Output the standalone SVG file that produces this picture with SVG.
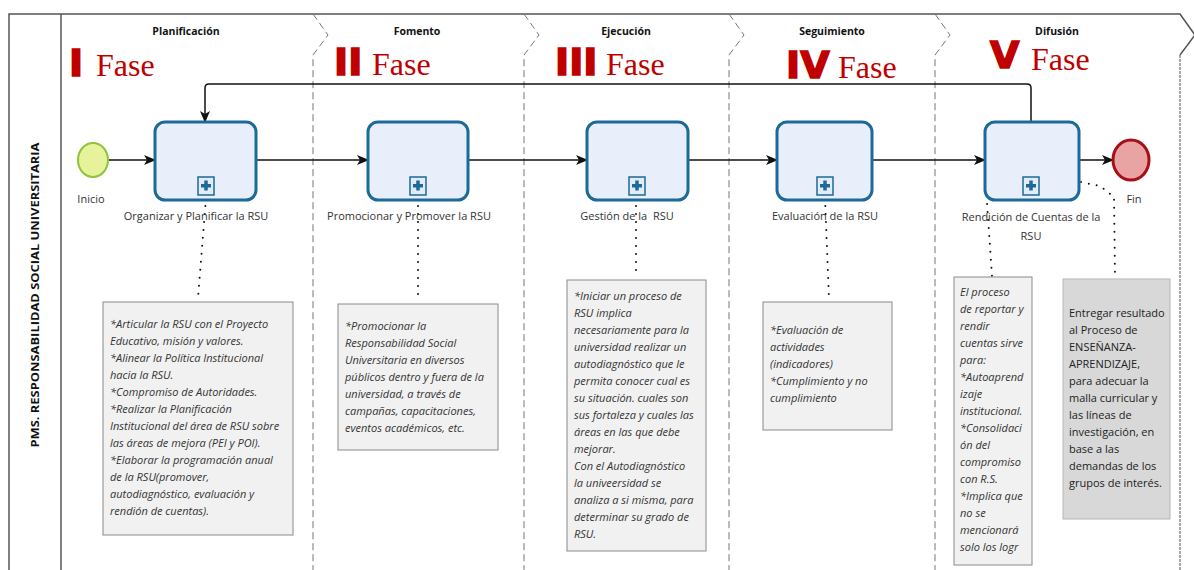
<svg xmlns="http://www.w3.org/2000/svg" width="1194" height="570" viewBox="0 0 1194 570">
<defs>
<marker id="arr" viewBox="0 0 12 10" refX="11" refY="5" markerWidth="12" markerHeight="10" markerUnits="userSpaceOnUse" orient="auto"><path d="M0,0 L12,5 L0,10 L3,5 z" fill="#111"/></marker>
<style>
.frame{fill:none;stroke:#555;stroke-width:1.5}
.lane{fill:none;stroke:#777;stroke-width:1;stroke-dasharray:7 4}
.hdr{font-family:"Open Sans","Noto Sans",sans-serif;font-weight:bold;font-size:10.5px;fill:#111;text-anchor:middle}
.num{font-family:"DejaVu Sans",sans-serif;font-weight:bold;font-size:38px;fill:#c00000;stroke:#c00000;stroke-width:1.6}
.fase{font-family:"Liberation Serif",serif;font-size:32px;fill:#c00000}
.box{fill:#e9eefb;stroke:#1d6a98;stroke-width:3}
.mk{fill:#e4ebf8;stroke:#1d6a98;stroke-width:1.5}
.plus{fill:#1d6a98}
.lbl{font-family:"Open Sans","Noto Sans",sans-serif;font-size:11px;fill:#333;text-anchor:middle}
.flow{fill:none;stroke:#111;stroke-width:1.5;marker-end:url(#arr)}
.assoc{fill:none;stroke:#111;stroke-width:2;stroke-dasharray:0 8;stroke-linecap:round}
.note{fill:#f1f1f1;stroke:#8a8a8a;stroke-width:1}
.note2{fill:#d8d8d8;stroke:#b5b5b5;stroke-width:1}
.nt{font-family:"Open Sans","Noto Sans",sans-serif;font-style:italic;font-size:11px;fill:#333}
.nt2{font-family:"Open Sans","Noto Sans",sans-serif;font-size:11px;fill:#222}
</style>
</defs>
<rect width="1194" height="570" fill="#fff"/>

<g id="pool">
<path class="frame" d="M9,570 L9,14 L1180,14 L1195,35 L1180,55"/>
<line class="frame" x1="61" y1="14" x2="61" y2="570"/>
<line x1="1180" y1="55" x2="1180" y2="570" stroke="#777" stroke-width="1.3" stroke-dasharray="3 1"/>
<text transform="translate(39,295) rotate(-90)" text-anchor="middle" font-family="Open Sans, Noto Sans, sans-serif" font-weight="bold" font-size="11" fill="#111" textLength="305" lengthAdjust="spacingAndGlyphs">PMS. RESPONSABILIDAD SOCIAL UNIVERSITARIA</text>
</g>

<g id="lanes">
<path class="lane" d="M313,14 L328,35 L313,55 L313,570"/>
<path class="lane" d="M524,14 L539,35 L524,55 L524,570"/>
<path class="lane" d="M729,14 L744,35 L729,55 L729,570"/>
<path class="lane" d="M935,14 L950,35 L935,55 L935,570"/>
</g>

<g id="headers">
<text class="hdr" x="186" y="35">Planificación</text>
<text class="hdr" x="417" y="35">Fomento</text>
<text class="hdr" x="626" y="35">Ejecución</text>
<text class="hdr" x="832" y="35">Seguimiento</text>
<text class="hdr" x="1057" y="35">Difusión</text>
<text class="num" x="69" y="76">I</text><text class="fase" x="96" y="76">Fase</text>
<text class="num" x="334" y="75">II</text><text class="fase" x="372" y="75">Fase</text>
<text class="num" x="555" y="75">III</text><text class="fase" x="606" y="75">Fase</text>
<text class="num" x="786" y="78">IV</text><text class="fase" x="838" y="78">Fase</text>
<text class="num" x="990" y="68">V</text><text class="fase" x="1031" y="70">Fase</text>
</g>

<g id="connectors">
<line class="flow" x1="108" y1="160" x2="155" y2="160"/>
<line class="flow" x1="256" y1="160" x2="368" y2="160"/>
<line class="flow" x1="468" y1="160" x2="587" y2="160"/>
<line class="flow" x1="688" y1="160" x2="777" y2="160"/>
<line class="flow" x1="872" y1="160" x2="985" y2="160"/>
<line class="flow" x1="1079" y1="160" x2="1113" y2="160"/>
<path class="flow" d="M1031,122 L1031,88 Q1031,84 1027,84 L209,84 Q205,84 205,88 L205,122"/>
<path class="assoc" d="M206,198 L198,298"/>
<path class="assoc" d="M418,198 L418,302"/>
<path class="assoc" d="M636,198 L636,278"/>
<path class="assoc" d="M825,198 L829,299"/>
<path class="assoc" d="M986,188 L992,276"/>
<path class="assoc" d="M1081,182 L1100,186 L1114,197 L1115,276"/>
</g>

<g id="inicio">
<ellipse cx="93" cy="160" rx="15" ry="17" fill="#e6f39a" stroke="#8cc43c" stroke-width="2"/>
<text class="lbl" x="91" y="203">Inicio</text>
</g>

<g id="organizar">
<rect class="box" x="155" y="122" width="101" height="78" rx="10"/>
<rect class="mk" x="198" y="177" width="16" height="18"/>
<rect class="plus" x="201" y="184" width="10" height="3.5"/><rect class="plus" x="204.25" y="180.5" width="3.5" height="10"/>
<text class="lbl" x="196" y="220">Organizar y Planificar la RSU</text>
</g>

<g id="promocionar">
<rect class="box" x="368" y="122" width="100" height="78" rx="10"/>
<rect class="mk" x="410" y="177" width="16" height="18"/>
<rect class="plus" x="413" y="184" width="10" height="3.5"/><rect class="plus" x="416.25" y="180.5" width="3.5" height="10"/>
<text class="lbl" x="409" y="220">Promocionar y Promover la RSU</text>
</g>

<g id="gestion">
<rect class="box" x="587" y="122" width="101" height="78" rx="10"/>
<rect class="mk" x="629" y="177" width="16" height="18"/>
<rect class="plus" x="632" y="184" width="10" height="3.5"/><rect class="plus" x="635.25" y="180.5" width="3.5" height="10"/>
<text class="lbl" x="627" y="220" xml:space="preserve">Gestión de la  RSU</text>
</g>

<g id="evaluacion">
<rect class="box" x="777" y="122" width="95" height="78" rx="10"/>
<rect class="mk" x="817" y="177" width="16" height="18"/>
<rect class="plus" x="820" y="184" width="10" height="3.5"/><rect class="plus" x="823.25" y="180.5" width="3.5" height="10"/>
<text class="lbl" x="825" y="220">Evaluación de la RSU</text>
</g>

<g id="rendicion">
<rect class="box" x="985" y="122" width="94" height="78" rx="10"/>
<rect class="mk" x="1023" y="177" width="16" height="18"/>
<rect class="plus" x="1026" y="184" width="10" height="3.5"/><rect class="plus" x="1029.25" y="180.5" width="3.5" height="10"/>
<text class="lbl" x="1031" y="221">Rendición de Cuentas de la</text>
<text class="lbl" x="1031" y="240">RSU</text>
</g>

<g id="fin">
<ellipse cx="1131" cy="160" rx="18" ry="20" fill="#e9a3a3" stroke="#a50f15" stroke-width="3"/>
<text class="lbl" x="1134" y="203">Fin</text>
</g>

<g id="nota-planificacion">
<rect class="note" x="103" y="302" width="190" height="233"/>
<text class="nt" x="110" y="328">
<tspan x="110" dy="0">*Articular la RSU con el Proyecto</tspan>
<tspan x="110" dy="17">Educativo, misión y valores.</tspan>
<tspan x="110" dy="17">*Alinear la Política Institucional</tspan>
<tspan x="110" dy="17">hacia la RSU.</tspan>
<tspan x="110" dy="17">*Compromiso de Autoridades.</tspan>
<tspan x="110" dy="17">*Realizar la Planificación</tspan>
<tspan x="110" dy="17">Institucional del área de RSU sobre</tspan>
<tspan x="110" dy="17">las áreas de mejora (PEI y POI).</tspan>
<tspan x="110" dy="17">*Elaborar la programación anual</tspan>
<tspan x="110" dy="17">de la RSU(promover,</tspan>
<tspan x="110" dy="17">autodiagnóstico, evaluación y</tspan>
<tspan x="110" dy="17">rendión de cuentas).</tspan>
</text>
</g>

<g id="nota-fomento">
<rect class="note" x="338" y="304" width="160" height="146"/>
<text class="nt" x="345" y="330">
<tspan x="345" dy="0">*Promocionar la</tspan>
<tspan x="345" dy="17">Responsabilidad Social</tspan>
<tspan x="345" dy="17">Universitaria en diversos</tspan>
<tspan x="345" dy="17">públicos dentro y fuera de la</tspan>
<tspan x="345" dy="17">universidad, a través de</tspan>
<tspan x="345" dy="17">campañas, capacitaciones,</tspan>
<tspan x="345" dy="17">eventos académicos, etc.</tspan>
</text>
</g>

<g id="nota-ejecucion">
<rect class="note" x="567" y="280" width="139" height="271"/>
<text class="nt" x="574" y="300">
<tspan x="574" dy="0">*Iniciar un proceso de</tspan>
<tspan x="574" dy="17">RSU implica</tspan>
<tspan x="574" dy="17">necesariamente para la</tspan>
<tspan x="574" dy="17">universidad realizar un</tspan>
<tspan x="574" dy="17">autodiagnóstico que le</tspan>
<tspan x="574" dy="17">permita conocer cual es</tspan>
<tspan x="574" dy="17">su situación. cuales son</tspan>
<tspan x="574" dy="17">sus fortaleza y cuales las</tspan>
<tspan x="574" dy="17">áreas en las que debe</tspan>
<tspan x="574" dy="17">mejorar.</tspan>
<tspan x="574" dy="17">Con el Autodiagnóstico</tspan>
<tspan x="574" dy="17">la univeersidad se</tspan>
<tspan x="574" dy="17">analiza a si misma, para</tspan>
<tspan x="574" dy="17">determinar su grado de</tspan>
<tspan x="574" dy="17">RSU.</tspan>
</text>
</g>

<g id="nota-seguimiento">
<rect class="note" x="763" y="302" width="129" height="128"/>
<text class="nt" x="770" y="334">
<tspan x="770" dy="0">*Evaluación de</tspan>
<tspan x="770" dy="17">actividades</tspan>
<tspan x="770" dy="17">(indicadores)</tspan>
<tspan x="770" dy="17">*Cumplimiento y no</tspan>
<tspan x="770" dy="17">cumplimiento</tspan>
</text>
</g>

<g id="nota-difusion">
<rect class="note" x="954" y="277" width="78" height="288"/>
<text class="nt" x="960" y="296">
<tspan x="960" dy="0">El proceso</tspan>
<tspan x="960" dy="17">de reportar y</tspan>
<tspan x="960" dy="17">rendir</tspan>
<tspan x="960" dy="17">cuentas sirve</tspan>
<tspan x="960" dy="17">para:</tspan>
<tspan x="960" dy="17">*Autoaprend</tspan>
<tspan x="960" dy="17">izaje</tspan>
<tspan x="960" dy="17">institucional.</tspan>
<tspan x="960" dy="17">*Consolidaci</tspan>
<tspan x="960" dy="17">ón del</tspan>
<tspan x="960" dy="17">compromiso</tspan>
<tspan x="960" dy="17">con R.S.</tspan>
<tspan x="960" dy="17">*Implica que</tspan>
<tspan x="960" dy="17">no se</tspan>
<tspan x="960" dy="17">mencionará</tspan>
<tspan x="960" dy="17">solo los logr</tspan>
</text>
</g>

<g id="nota-fin">
<rect class="note2" x="1063" y="279" width="107" height="240"/>
<text class="nt2" x="1069" y="317">
<tspan x="1069" dy="0">Entregar resultado</tspan>
<tspan x="1069" dy="17">al Proceso de</tspan>
<tspan x="1069" dy="17">ENSEÑANZA-</tspan>
<tspan x="1069" dy="17">APRENDIZAJE,</tspan>
<tspan x="1069" dy="17">para adecuar la</tspan>
<tspan x="1069" dy="17">malla curricular y</tspan>
<tspan x="1069" dy="17">las líneas de</tspan>
<tspan x="1069" dy="17">investigación, en</tspan>
<tspan x="1069" dy="17">base a las</tspan>
<tspan x="1069" dy="17">demandas de los</tspan>
<tspan x="1069" dy="17">grupos de interés.</tspan>
</text>
</g>
</svg>
